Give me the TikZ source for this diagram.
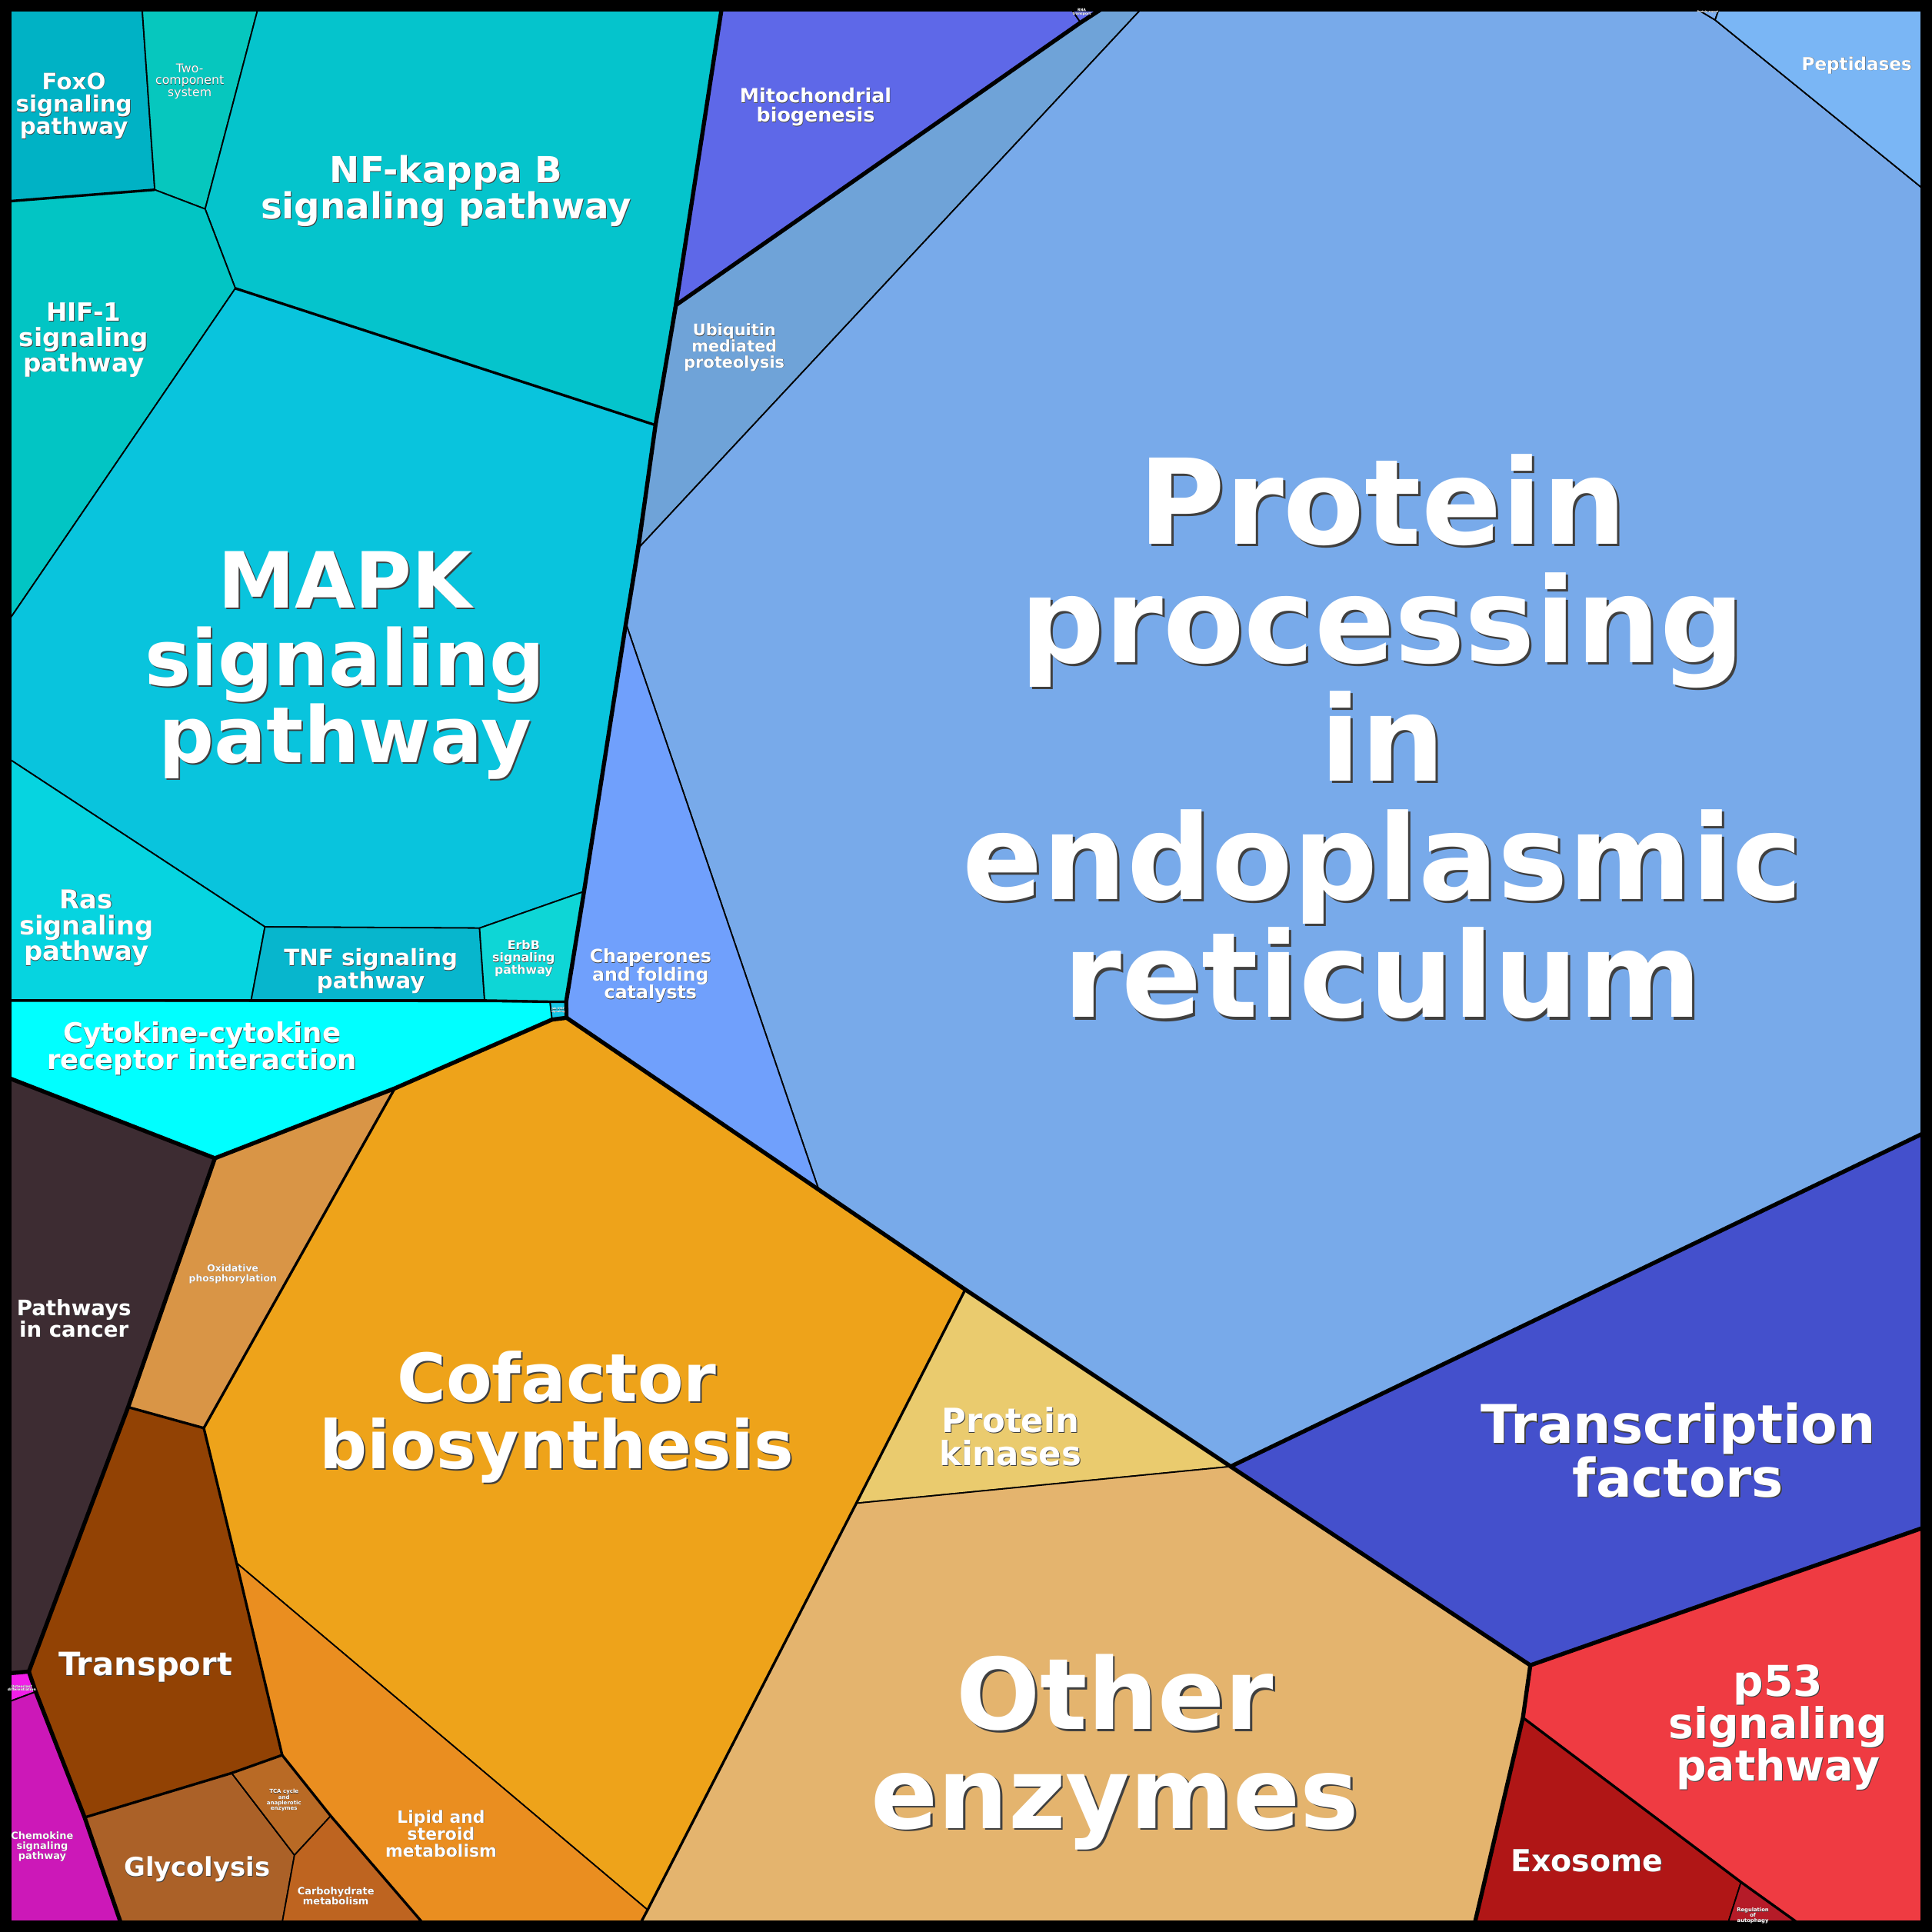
\documentclass[tikz,border=0pt]{standalone}
\usepackage{fontspec}
\setmainfont{DejaVu Sans}
\usepackage{xcolor}
\usetikzlibrary{positioning}

\definecolor{foxo}{RGB}{0,178,197}
\definecolor{twocomp}{RGB}{6,199,190}
\definecolor{nfkb}{RGB}{5,196,204}
\definecolor{hif}{RGB}{2,197,196}
\definecolor{mapk}{RGB}{9,196,221}
\definecolor{ras}{RGB}{6,212,224}
\definecolor{tnf}{RGB}{7,182,205}
\definecolor{erbb}{RGB}{14,214,214}
\definecolor{jak}{RGB}{20,200,230}
\definecolor{cyto}{RGB}{0,255,255}
\definecolor{mito}{RGB}{94,104,232}
\definecolor{rna}{RGB}{100,110,240}
\definecolor{ubiq}{RGB}{111,163,216}
\definecolor{ppr}{RGB}{120,170,234}
\definecolor{pept}{RGB}{122,182,245}
\definecolor{pexp}{RGB}{125,175,240}
\definecolor{chap}{RGB}{112,160,252}
\definecolor{tfac}{RGB}{68,80,204}
\definecolor{pkin}{RGB}{234,203,110}
\definecolor{oenz}{RGB}{228,180,110}
\definecolor{cofac}{RGB}{238,163,26}
\definecolor{lipid}{RGB}{234,142,32}
\definecolor{oxph}{RGB}{217,149,70}
\definecolor{transp}{RGB}{146,66,4}
\definecolor{glyc}{RGB}{171,97,40}
\definecolor{tca}{RGB}{185,106,37}
\definecolor{carb}{RGB}{190,100,32}
\definecolor{cancer}{RGB}{61,44,50}
\definecolor{chemo}{RGB}{204,24,184}
\definecolor{osteo}{RGB}{240,30,232}
\definecolor{pfiftythree}{RGB}{239,59,66}
\definecolor{exo}{RGB}{176,22,22}
\definecolor{regaut}{RGB}{181,27,40}

% label with a dark drop shadow: [weight] name, position, size in pt, text
\newcommand{\lbl}[5][\bfseries]{%
  \pgfmathsetmacro{\shoff}{max(0.02*#4,0.04)}%
  \node[lbltext, text=black!75, xshift=\shoff pt, yshift=-\shoff pt, font=\fontsize{#4}{#4}\selectfont#1] at (#3) {#5};%
  \node[lbltext, font=\fontsize{#4}{#4}\selectfont#1] (#2) at (#3) {#5};}

\begin{document}
\begin{tikzpicture}[x=0.01cm, y=-0.01cm, line join=round]
	\tikzstyle{leaf} = [draw=black, line width=0.32pt]
	\tikzstyle{sub} = [draw=black, line width=0.6pt]
	\tikzstyle{grp} = [draw=black, line width=0.95pt]
	\tikzstyle{lbltext} = [text=white, align=center, inner sep=0pt]

	\useasboundingbox (0,0) rectangle (1568,1568);
	\fill[black] (0,0) rectangle (1568,1568);

	% frame corners
	\coordinate (c1) at (7.5,7.5);
	\coordinate (c2) at (1560.5,7.5);
	\coordinate (c3) at (1560.5,1560.5);
	\coordinate (c4) at (7.5,1560.5);
	% signaling
	\coordinate (fa) at (115.4,7.5);
	\coordinate (fb) at (125.6,154);
	\coordinate (fc) at (7.5,163.3);
	\coordinate (fd) at (209.2,7.5);
	\coordinate (fe) at (166.5,169.6);
	\coordinate (ff) at (191,234);
	\coordinate (fg) at (585.6,7.5);
	\coordinate (fh) at (532,345);
	\coordinate (fi) at (7.5,503);
	\coordinate (fj) at (7.5,616);
	\coordinate (fk) at (215,752.2);
	\coordinate (fl) at (389.2,753.2);
	\coordinate (fm) at (474,723.5);
	\coordinate (fn) at (7.5,812);
	\coordinate (fo) at (203.8,812);
	\coordinate (fp) at (393.3,812);
	\coordinate (fq) at (446.3,813);
	\coordinate (fr) at (459.5,813);
	\coordinate (fs) at (459.8,826);
	\coordinate (ft) at (448,827.5);
	% genetic information
	\coordinate (ga) at (869.6,7.5);
	\coordinate (gb) at (877,18.3);
	\coordinate (gc) at (893.7,7.5);
	\coordinate (gd) at (548.6,247.6);
	\coordinate (ge) at (926,7.5);
	\coordinate (gf) at (518,445);
	\coordinate (gg) at (508,506);
	\coordinate (gh) at (665,967);
	\coordinate (gi) at (1377.5,7.5);
	\coordinate (gj) at (1395,7.5);
	\coordinate (gk) at (1392,16.2);
	\coordinate (gl) at (1560.5,153);
	\coordinate (gm) at (1560.5,920);
	\coordinate (gn) at (998.8,1190.2);
	\coordinate (go) at (783.4,1046.6);
	\coordinate (gp) at (1560.5,1240);
	\coordinate (gq) at (1242,1351.5);
	\coordinate (gr) at (1236,1394);
	\coordinate (gs) at (1197,1560.5);
	\coordinate (gt) at (1413,1527.5);
	\coordinate (gu) at (1402.5,1560.5);
	\coordinate (gv) at (1459,1560.5);
	% metabolism and the rest
	\coordinate (ma) at (695,1220);
	\coordinate (mb) at (525.6,1550);
	\coordinate (mc) at (520,1560.5);
	\coordinate (md) at (343,1560.5);
	\coordinate (me) at (268.4,1473.8);
	\coordinate (mf) at (229,1424.4);
	\coordinate (mg) at (192,1268.5);
	\coordinate (mh) at (165.4,1159);
	\coordinate (mi) at (320.4,883.3);
	\coordinate (mj) at (174.4,940);
	\coordinate (mk) at (104,1142);
	\coordinate (ml) at (23.4,1356.6);
	\coordinate (mm) at (7.5,875);
	\coordinate (mn) at (7.5,1358);
	\coordinate (mo) at (29,1373);
	\coordinate (mp) at (7.5,1381);
	\coordinate (mq) at (68.7,1475);
	\coordinate (mr) at (98,1560.5);
	\coordinate (ms) at (188,1439);
	\coordinate (mt) at (239,1505.6);
	\coordinate (mu) at (229,1560.5);

	% cells
	\path[leaf, fill=foxo] (c1) -- (fa) -- (fb) -- (fc) -- cycle;
	\path[leaf, fill=twocomp] (fa) -- (fd) -- (fe) -- (fb) -- cycle;
	\path[leaf, fill=nfkb] (fd) -- (fg) -- (fh) -- (ff) -- (fe) -- cycle;
	\path[leaf, fill=hif] (fc) -- (fb) -- (fe) -- (ff) -- (fi) -- cycle;
	\path[leaf, fill=mapk] (ff) -- (fh) -- (fm) -- (fl) -- (fk) -- (fj) -- (fi) -- cycle;
	\path[leaf, fill=ras] (fj) -- (fk) -- (fo) -- (fn) -- cycle;
	\path[leaf, fill=tnf] (fk) -- (fl) -- (fp) -- (fo) -- cycle;
	\path[leaf, fill=erbb] (fl) -- (fm) -- (fr) -- (fq) -- (fp) -- cycle;
	\path[leaf, fill=jak] (fq) -- (fr) -- (fs) -- (ft) -- cycle;
	\path[leaf, fill=cyto] (fn) -- (fq) -- (ft) -- (fs) -- (mi) -- (mj) -- (mm) -- cycle;
	\path[leaf, fill=mito] (fg) -- (ga) -- (gb) -- (gd) -- cycle;
	\path[leaf, fill=rna] (ga) -- (gc) -- (gb) -- cycle;
	\path[leaf, fill=ubiq] (gd) -- (gc) -- (ge) -- (gf) -- (fh) -- cycle;
	\path[leaf, fill=ppr] (ge) -- (gi) -- (gk) -- (gl) -- (gm) -- (gn) -- (gh) -- (gg) -- (gf) -- cycle;
	\path[leaf, fill=pexp] (gi) -- (gj) -- (gk) -- cycle;
	\path[leaf, fill=pept] (gj) -- (c2) -- (gl) -- (gk) -- cycle;
	\path[leaf, fill=chap] (gg) -- (gh) -- (fs) -- (fr) -- (fm) -- cycle;
	\path[leaf, fill=tfac] (gm) -- (gp) -- (gq) -- (gn) -- cycle;
	\path[leaf, fill=pkin] (go) -- (gn) -- (ma) -- cycle;
	\path[leaf, fill=oenz] (ma) -- (gn) -- (gq) -- (gr) -- (gs) -- (mc) -- (mb) -- cycle;
	\path[leaf, fill=pfiftythree] (gq) -- (gp) -- (c3) -- (gv) -- (gt) -- (gr) -- cycle;
	\path[leaf, fill=exo] (gr) -- (gt) -- (gu) -- (gs) -- cycle;
	\path[leaf, fill=regaut] (gt) -- (gv) -- (gu) -- cycle;
	\path[leaf, fill=cofac] (ft) -- (fs) -- (go) -- (ma) -- (mb) -- (mg) -- (mh) -- (mi) -- cycle;
	\path[leaf, fill=lipid] (mg) -- (mb) -- (mc) -- (md) -- (me) -- (mf) -- cycle;
	\path[leaf, fill=oxph] (mj) -- (mi) -- (mh) -- (mk) -- cycle;
	\path[leaf, fill=transp] (mk) -- (mh) -- (mg) -- (mf) -- (ms) -- (mq) -- (mo) -- (ml) -- cycle;
	\path[leaf, fill=glyc] (mq) -- (ms) -- (mt) -- (mu) -- (mr) -- cycle;
	\path[leaf, fill=tca] (ms) -- (mf) -- (me) -- (mt) -- cycle;
	\path[leaf, fill=carb] (mt) -- (me) -- (md) -- (mu) -- cycle;
	\path[leaf, fill=cancer] (mm) -- (mj) -- (mk) -- (ml) -- (mn) -- cycle;
	\path[leaf, fill=osteo] (mn) -- (ml) -- (mo) -- (mp) -- cycle;
	\path[leaf, fill=chemo] (mp) -- (mo) -- (mq) -- (mr) -- (c4) -- cycle;

	% second level borders
	\draw[sub] (fc) -- (fb);
	\draw[sub] (ff) -- (fh);
	\draw[sub] (fn) -- (fo) -- (fp) -- (fq) -- (fr);
	\draw[sub] (mk) -- (mh) -- (mg) -- (mf) -- (ms) -- (mq);
	\draw[sub] (mf) -- (me) -- (md);
	\draw[sub] (mi) -- (mh);
	\draw[sub] (go) -- (ma) -- (mb) -- (mc);
	\draw[sub] (gr) -- (gt) -- (gv);

	% top level borders
	\draw[grp] (fg) -- (gd) -- (fh) -- (gf) -- (gg) -- (fm) -- (fr) -- (fs);
	\draw[grp] (gc) -- (gb) -- (gd);
	\draw[grp] (mm) -- (mj) -- (mi) -- (ft) -- (fs) -- (go) -- (gn) -- (gm);
	\draw[grp] (gn) -- (gq) -- (gp);
	\draw[grp] (gq) -- (gr) -- (gs);
	\draw[grp] (mj) -- (mk) -- (ml) -- (mn);
	\draw[grp] (ml) -- (mo) -- (mq) -- (mr);
	\draw[grp] (c1) rectangle (c3);

	% labels
	\lbl{ppr}{1122,598}{27.3}{Protein\\processing\\in\\endoplasmic\\reticulum}
	\lbl{mapk}{280,540}{17.9}{MAPK\\signaling\\pathway}
	\lbl{nfkb}{362,155}{8.3}{NF-kappa B\\signaling pathway}
	\lbl{foxo}{60,86}{5.2}{FoxO\\signaling\\pathway}
	\lbl[\mdseries]{twocomp}{154,66}{2.8}{Two-\\component\\system}
	\lbl{hif}{68,276}{5.8}{HIF-1\\signaling\\pathway}
	\lbl{ras}{70,753}{6}{Ras\\signaling\\pathway}
	\lbl{tnf}{301,788}{5.2}{TNF signaling\\pathway}
	\lbl{erbb}{425,778}{2.8}{ErbB\\signaling\\pathway}
	\lbl{jak}{453,820}{0.6}{Jak-STAT\\signaling}
	\lbl{cyto}{164,851}{6.3}{Cytokine-cytokine\\receptor interaction}
	\lbl{mito}{662,87}{4.5}{Mitochondrial\\biogenesis}
	\lbl{rna}{878,10}{0.8}{RNA\\transport}
	\lbl{ubiq}{596,282}{3.7}{Ubiquitin\\mediated\\proteolysis}
	\lbl{chap}{528,792}{4.2}{Chaperones\\and folding\\catalysts}
	\lbl{pept}{1507,53}{4.1}{Peptidases}
	\lbl{pexp}{1386,9.5}{0.6}{Protein export}
	\lbl{tfac}{1362,1177}{12.3}{Transcription\\factors}
	\lbl{pkin}{820,1166}{7.7}{Protein\\kinases}
	\lbl{cofac}{452,1150}{15.4}{Cofactor\\biosynthesis}
	\lbl{oenz}{905,1422}{22.8}{Other\\enzymes}
	\lbl{pfiftythree}{1443,1402}{9.8}{p53\\signaling\\pathway}
	\lbl{exo}{1288,1510}{7}{Exosome}
	\lbl{regaut}{1422.6,1554.8}{1.2}{Regulation\\of\\autophagy}
	\lbl{oxph}{189,1034}{2.2}{Oxidative\\phosphorylation}
	\lbl{cancer}{60,1070}{4.9}{Pathways\\in cancer}
	\lbl{transp}{118,1353}{7.4}{Transport}
	\lbl{glyc}{160,1517}{6}{Glycolysis}
	\lbl{tca}{230.5,1461}{1.25}{TCA cycle\\and\\anaplerotic\\enzymes}
	\lbl{carb}{272.6,1538.7}{2.3}{Carbohydrate\\metabolism}
	\lbl{lipid}{358,1488}{3.9}{Lipid and\\steroid\\metabolism}
	\lbl{chemo}{34.3,1498.6}{2.3}{Chemokine\\signaling\\pathway}
	\lbl{osteo}{17.7,1370}{0.8}{Osteoclast\\differentiation}
\end{tikzpicture}
\end{document}
